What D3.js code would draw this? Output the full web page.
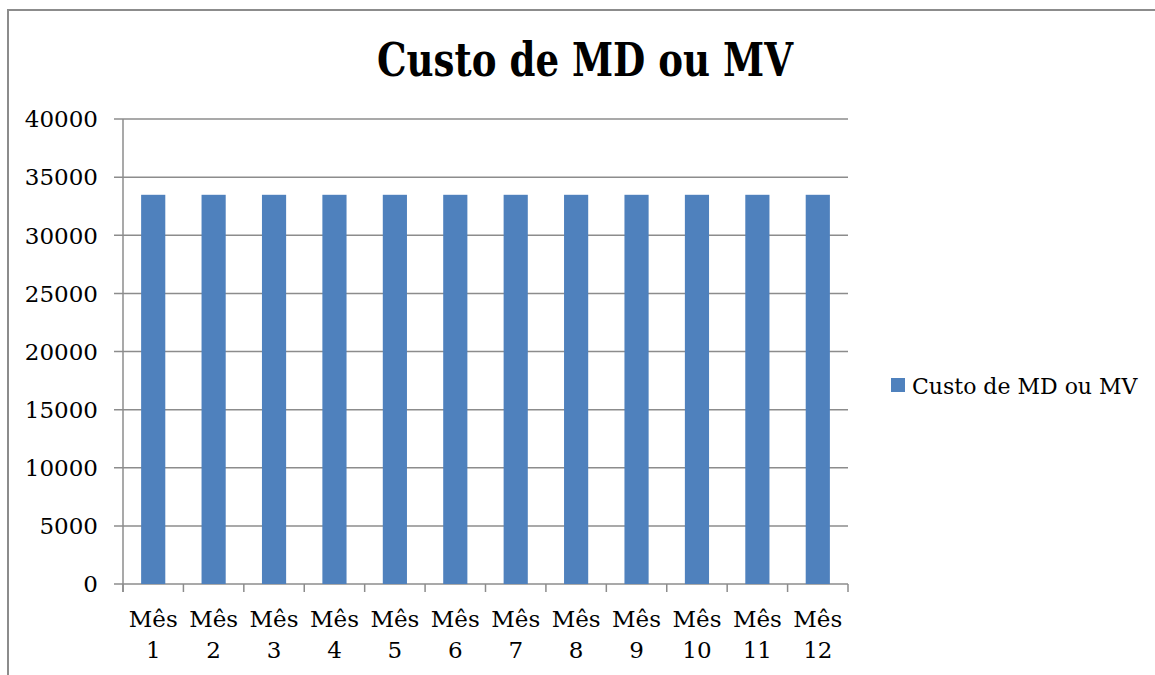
<!DOCTYPE html>
<html>
<head>
<meta charset="utf-8">
<script src="https://cdn.jsdelivr.net/npm/d3@7"></script>
<style>
  body { margin: 0; background: #fff; }
  text { font-family: "DejaVu Serif", serif; fill: #000; }
</style>
</head>
<body>
<div id="chart"></div>
<script>
// data
var months = ["Mês 1", "Mês 2", "Mês 3", "Mês 4", "Mês 5", "Mês 6",
              "Mês 7", "Mês 8", "Mês 9", "Mês 10", "Mês 11", "Mês 12"];
var custo = [33480, 33480, 33480, 33480, 33480, 33480,
             33480, 33480, 33480, 33480, 33480, 33480];
var yTicks = [0, 5000, 10000, 15000, 20000, 25000, 30000, 35000, 40000];
var seriesName = "Custo de MD ou MV";
var title = "Custo de MD ou MV";

var W = 1155, H = 675;
var margin = {top: 119, left: 123, right: 307, bottom: 91},
    width = W - margin.left - margin.right,
    height = H - margin.top - margin.bottom;

var svg = d3.select("#chart")
  .append("svg")
    .attr("width", W)
    .attr("height", H);

// outer frame (only top + left are visible)
svg.append("path")
  .attr("d", "M8," + (H + 5) + " V10 H" + (W + 5))
  .attr("fill", "none")
  .attr("stroke", "#8c8c8c")
  .attr("stroke-width", 2);

// title
svg.append("text")
  .attr("x", 585)
  .attr("y", 76)
  .attr("text-anchor", "middle")
  .style("font-size", "46px")
  .style("font-weight", "bold")
  .attr("textLength", 416)
  .attr("lengthAdjust", "spacingAndGlyphs")
  .text(title);

var g = svg.append("g")
  .attr("transform", "translate(" + margin.left + "," + margin.top + ")");

var x = d3.scaleBand()
  .domain(months)
  .range([0, width])
  .paddingInner(0.6)
  .paddingOuter(0.3);

var y = d3.scaleLinear()
  .domain([0, 40000])
  .range([height, 0]);

// horizontal gridlines
g.append("g")
  .selectAll("line")
  .data(yTicks)
  .enter()
  .append("line")
    .attr("x1", -9)
    .attr("x2", width)
    .attr("y1", function(d) { return y(d); })
    .attr("y2", function(d) { return y(d); })
    .attr("stroke", "#8c8c8c")
    .attr("stroke-width", 1.5);

// y labels
g.append("g")
  .selectAll("text")
  .data(yTicks)
  .enter()
  .append("text")
    .attr("x", -25)
    .attr("y", function(d) { return y(d); })
    .attr("dy", "0.36em")
    .attr("text-anchor", "end")
    .style("font-size", "23px")
    .text(function(d) { return d; });

// bars
g.selectAll("rect.bar")
  .data(custo)
  .enter()
  .append("rect")
    .attr("class", "bar")
    .attr("x", function(d, i) { return x(months[i]); })
    .attr("y", function(d) { return y(d); })
    .attr("width", x.bandwidth())
    .attr("height", function(d) { return height - y(d); })
    .attr("fill", "#4f81bd");

// y axis line
g.append("line")
  .attr("x1", 0).attr("x2", 0)
  .attr("y1", 0).attr("y2", height + 8)
  .attr("stroke", "#8c8c8c")
  .attr("stroke-width", 1.5);

// x ticks between categories
var bounds = d3.range(months.length + 1).map(function(i) { return i * width / months.length; });
g.append("g")
  .selectAll("line")
  .data(bounds)
  .enter()
  .append("line")
    .attr("x1", function(d) { return d; })
    .attr("x2", function(d) { return d; })
    .attr("y1", height)
    .attr("y2", height + 8)
    .attr("stroke", "#8c8c8c")
    .attr("stroke-width", 1.5);

// x labels (two lines)
var xl = g.append("g")
  .selectAll("text")
  .data(months)
  .enter()
  .append("text")
    .attr("text-anchor", "middle")
    .style("font-size", "23px")
    .attr("transform", function(d) {
      return "translate(" + (x(d) + x.bandwidth() / 2) + "," + (height + 43) + ")";
    });
xl.selectAll("tspan")
  .data(function(d) { return d.split(" "); })
  .enter()
  .append("tspan")
    .attr("x", 0)
    .attr("dy", function(d, i) { return i ? 31 : 0; })
    .text(function(d) { return d; });

// legend
var leg = svg.append("g").attr("transform", "translate(891,378)");
leg.append("rect")
  .attr("width", 14)
  .attr("height", 14)
  .attr("fill", "#4f81bd");
leg.append("text")
  .attr("x", 21)
  .attr("y", 16)
  .style("font-size", "22px")
  .text(seriesName);
</script>
</body>
</html>
